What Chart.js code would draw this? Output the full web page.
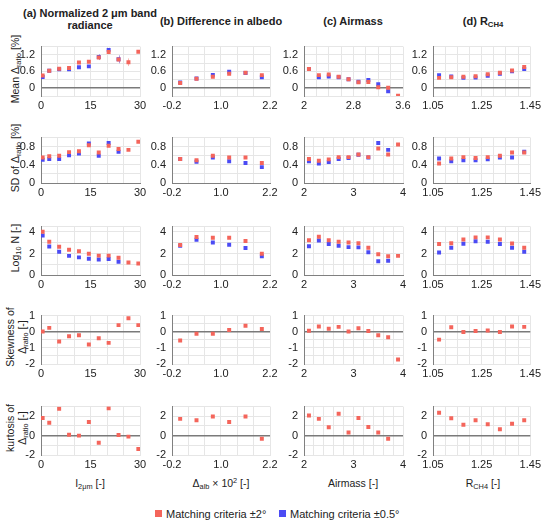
<!DOCTYPE html>
<html>
<head>
<meta charset="utf-8">
<script src="https://cdn.jsdelivr.net/npm/chart.js@4.4.1/dist/chart.umd.min.js"></script>
<style>
  body { margin: 0; background: #fff; font-family: Arial, "Liberation Sans", sans-serif; color: #222; }
  #fig { position: relative; width: 550px; height: 528px; overflow: hidden; background: #fff; }
  #fig canvas { position: absolute; }
  .t { position: absolute; white-space: nowrap; }
  .col { font-weight: bold; font-size: 11px; transform: translate(-50%, -50%); text-align: center; }
  .yt { font-size: 10.5px; line-height: 12px; text-align: center; transform: translate(-50%, -50%) rotate(-90deg); }
  .xt { font-size: 10.5px; transform: translate(-50%, -50%); }
  .lg { font-size: 11px; transform: translateY(-50%); }
  .sw { position: absolute; width: 7px; height: 7px; }
  sub { font-size: 70%; vertical-align: -2px; line-height: 0; }
  sup { font-size: 70%; vertical-align: 4px; line-height: 0; }
</style>
</head>
<body>
<div id="fig">
  <div class="t col" style="left:90px;top:13px">(a) Normalized 2 μm band</div>
  <div class="t col" style="left:90px;top:25px">radiance</div>
  <div class="t col" style="left:221px;top:21px">(b) Difference in albedo</div>
  <div class="t col" style="left:353px;top:21px">(c) Airmass</div>
  <div class="t col" style="left:483px;top:21px">(d) R<sub>CH4</sub></div>

  <div class="t yt" style="left:15px;top:69px">Mean Δ<sub>ratio</sub> [%]</div>
  <div class="t yt" style="left:15px;top:158px">SD of Δ<sub>ratio</sub> [%]</div>
  <div class="t yt" style="left:15px;top:248px">Log<sub>10</sub> N [-]</div>
  <div class="t yt" style="left:16px;top:337px">Skewness of<br>Δ<sub>ratio</sub> [-]</div>
  <div class="t yt" style="left:16px;top:428px">kurtosis of<br>Δ<sub>ratio</sub> [-]</div>

  <div class="t xt" style="left:90px;top:483px">I<sub>2μm</sub> [-]</div>
  <div class="t xt" style="left:221px;top:483px">Δ<sub>alb</sub> × 10<sup>2</sup> [-]</div>
  <div class="t xt" style="left:353px;top:483px">Airmass [-]</div>
  <div class="t xt" style="left:483px;top:483px">R<sub>CH4</sub> [-]</div>

  <div class="sw" style="left:155px;top:510px;background:#f4655b"></div>
  <div class="t lg" style="left:166px;top:514px">Matching criteria ±2°</div>
  <div class="sw" style="left:279px;top:510px;background:#4b4bf4"></div>
  <div class="t lg" style="left:290px;top:514px">Matching criteria ±0.5°</div>
</div>
<script>
// bin centres
const irrX     = [0.5, 2.5, 5.5, 8.5, 11.5, 14.5, 17.5, 20.5, 23.5, 26.5, 29.5];
const albX     = [0.0, 0.4, 0.8, 1.2, 1.6, 2.0];
const airX     = [2.1, 2.3, 2.5, 2.7, 2.9, 3.1, 3.3, 3.5, 3.7, 3.9];
const airMeanX = [2.08, 2.24, 2.40, 2.56, 2.72, 2.88, 3.04, 3.20, 3.36, 3.52];
const rchX     = [1.075, 1.125, 1.175, 1.225, 1.275, 1.325, 1.375, 1.425];

// row 1: mean of delta ratio [%]
const meanIrrRed  = [0.45, 0.62, 0.69, 0.72, 0.92, 0.95, 1.10, 1.30, 1.03, 0.93, 1.31];
const meanIrrBlue = [0.39, 0.62, 0.67, 0.67, 0.75, 0.78, 1.12, 1.38, 1.04];
const meanIrrRedErr  = [0.03, 0.02, 0.02, 0.03, 0.03, 0.04, 0.09, 0.06, 0.12, 0.14, 0.03];
const meanIrrBlueErr = [0.03, 0.02, 0.03, 0.03, 0.04, 0.05, 0.11, 0.08, 0.15];
const meanAlbRed  = [0.17, 0.33, 0.40, 0.51, 0.55, 0.46];
const meanAlbBlue = [0.19, 0.34, 0.47, 0.58, 0.54, 0.38];
const meanAirRed  = [0.68, 0.46, 0.48, 0.40, 0.31, 0.20, 0.21, 0.02, 0.00, -0.29];
const meanAirBlue = [0.68, 0.38, 0.41, 0.38, 0.31, 0.22, 0.28, 0.13, -0.13];
const meanRchRed  = [0.36, 0.38, 0.40, 0.42, 0.49, 0.55, 0.63, 0.76];
const meanRchBlue = [0.46, 0.41, 0.36, 0.37, 0.44, 0.51, 0.60, 0.68];

// row 2: SD of delta ratio [%]
const sdIrrRed  = [0.56, 0.59, 0.60, 0.68, 0.70, 0.83, 0.67, 0.82, 0.75, 0.73, 0.91];
const sdIrrBlue = [0.51, 0.53, 0.53, 0.61, 0.65, 0.87, 0.60, 0.88, 0.69];
const sdAlbRed  = [0.53, 0.50, 0.60, 0.56, 0.56, 0.44];
const sdAlbBlue = [0.53, 0.47, 0.56, 0.48, 0.44, 0.35];
const sdAirRed  = [0.53, 0.49, 0.52, 0.57, 0.57, 0.63, 0.57, 0.76, 0.63, 0.85];
const sdAirBlue = [0.48, 0.43, 0.46, 0.53, 0.55, 0.62, 0.56, 0.88, 0.73];
const sdRchRed  = [0.43, 0.54, 0.57, 0.55, 0.57, 0.60, 0.67, 0.67];
const sdRchBlue = [0.54, 0.48, 0.50, 0.50, 0.52, 0.56, 0.56, 0.69];

// row 3: log10 of sample count
const logIrrRed  = [4.03, 3.10, 2.62, 2.34, 2.20, 1.97, 1.80, 1.80, 1.61, 1.16, 1.07];
const logIrrBlue = [3.67, 2.65, 2.17, 1.78, 1.64, 1.52, 1.44, 1.49, 1.24];
const logAlbRed  = [2.79, 3.53, 3.47, 3.47, 3.16, 1.97];
const logAlbBlue = [2.71, 3.27, 3.02, 2.82, 2.51, 1.75];
const logAirRed  = [3.24, 3.55, 3.24, 3.10, 3.02, 2.96, 2.54, 1.92, 1.75, 1.78];
const logAirBlue = [2.68, 3.21, 2.88, 2.71, 2.59, 2.57, 2.12, 1.27, 1.33];
const logRchRed  = [2.88, 2.96, 3.30, 3.50, 3.50, 3.30, 2.93, 2.54];
const logRchBlue = [2.09, 2.54, 2.90, 3.13, 3.10, 2.88, 2.54, 2.17];

// row 4: skewness (±2° only)
const skewIrrRed = [0.02, 0.24, -0.60, -0.28, -0.22, -0.79, -0.41, -0.69, 0.41, 0.84, 0.41];
const skewAlbRed = [-0.54, -0.13, -0.13, 0.11, 0.37, 0.17];
const skewAirRed = [0.06, 0.32, 0.19, 0.30, 0.02, 0.22, 0.04, -0.22, -0.34, -1.72];
const skewRchRed = [-0.49, 0.28, -0.02, 0.04, 0.07, -0.02, 0.32, 0.30];

// row 5: kurtosis (±2° only)
const kurtIrrRed = [1.82, 1.34, 2.78, 0.10, 0.00, 1.41, -0.74, 2.82, 0.06, -0.10, -1.38];
const kurtAlbRed = [1.73, 1.60, 1.98, 1.41, 1.98, -0.32];
const kurtAirRed = [2.08, 1.73, 0.86, 2.27, 0.32, 1.82, 0.90, 0.32, -0.32];
const kurtRchRed = [2.37, 1.79, 1.12, 1.60, 1.18, 0.67, 1.22, 1.60];

// axis ranges and labelled ticks
const xAxes = [
  { min: 0,    max: 30,   step: 5,    labels: ['0', '15', '30'] },
  { min: -0.2, max: 2.2,  step: 0.4,  labels: ['-0.2', '1.0', '2.2'] },
  { min: 2,    max: 4,    step: 0.2,  labels: ['2', '3', '4'] },
  { min: 1.05, max: 1.45, step: 0.05, labels: ['1.05', '1.25', '1.45'] }
];
const airMeanAxis = { min: 2, max: 3.6, step: 0.2, labels: ['2', '2.8', '3.6'] };
const yAxes = [
  { min: -0.3, max: 1.5, step: 0.3, labels: ['0', '0.6', '1.2'] },
  { min: 0,    max: 1.0, step: 0.2, labels: ['0', '0.4', '0.8'] },
  { min: 0,    max: 4.5, step: 1,   labels: ['0', '2', '4'] },
  { min: -2,   max: 1,   step: 0.5, labels: ['-2', '-1', '0', '1'] },
  { min: -2,   max: 3,   step: 1,   labels: ['-2', '0', '2'] }
];

const RED = '#f4655b', BLUE = '#4b4bf4';
const colLeft  = [41, 172, 304, 433];
const colWidth = [99, 98, 99, 99];
const rowTop    = [42, 133, 222, 311, 402];
const rowHeight = [54, 50, 53, 53, 53];
const PAD_L = 30, PAD_R = 12, PAD_T = 8, PAD_B = 16;

const pts = (xs, ys) => ys.map((y, i) => ({ x: xs[i], y }));

function gridValues(ax) {
  const out = [];
  const n = Math.floor((ax.max - ax.min) / ax.step + 1e-9);
  for (let i = 0; i <= n; i++) out.push(+(ax.min + i * ax.step).toFixed(6));
  if (Math.abs(out[out.length - 1] - ax.max) > 1e-9) out.push(ax.max);
  return out;
}

function labelFor(ax, v) {
  const hit = ax.labels.find(l => Math.abs(parseFloat(l) - v) < 1e-6);
  return hit === undefined ? '' : hit;
}

const errorBars = {
  id: 'errorBars',
  beforeDatasetsDraw(chart) {
    const { ctx, scales: { x, y } } = chart;
    chart.data.datasets.forEach(ds => {
      if (!ds.errors) return;
      ctx.save();
      ctx.strokeStyle = ds.errorColor;
      ctx.lineWidth = 1;
      ds.data.forEach((p, i) => {
        const e = ds.errors[i];
        if (!e) return;
        const px = Math.round(x.getPixelForValue(p.x)) + 0.5;
        ctx.beginPath();
        ctx.moveTo(px, y.getPixelForValue(p.y - e));
        ctx.lineTo(px, y.getPixelForValue(p.y + e));
        ctx.stroke();
      });
      ctx.restore();
    });
  }
};

function makePanel(r, c, xAx, red, blue, redErr, blueErr) {
  const yAx = yAxes[r];
  const canvas = document.createElement('canvas');
  const w = colWidth[c] + PAD_L + PAD_R;
  const h = rowHeight[r] + PAD_T + PAD_B;
  canvas.width = w; canvas.height = h;
  canvas.style.width = w + 'px'; canvas.style.height = h + 'px';
  canvas.style.left = (colLeft[c] - PAD_L) + 'px';
  canvas.style.top = (rowTop[r] - PAD_T) + 'px';
  document.getElementById('fig').appendChild(canvas);

  const zeroInside = yAx.min < 0;
  const datasets = [{
    data: red, backgroundColor: RED, borderWidth: 0,
    pointStyle: 'rect', pointRadius: 2.8,
    errors: redErr, errorColor: 'rgba(244,101,91,0.45)'
  }];
  if (blue) datasets.push({
    data: blue, backgroundColor: BLUE, borderWidth: 0,
    pointStyle: 'rect', pointRadius: 2.8,
    errors: blueErr, errorColor: 'rgba(75,75,244,0.4)'
  });

  new Chart(canvas, {
    type: 'scatter',
    data: { datasets },
    plugins: [errorBars],
    options: {
      responsive: false,
      animation: false,
      events: [],
      layout: { padding: { left: 0, right: PAD_R, top: PAD_T, bottom: 0 } },
      plugins: { legend: { display: false }, tooltip: { enabled: false } },
      scales: {
        x: {
          type: 'linear', min: xAx.min, max: xAx.max,
          afterBuildTicks: s => { s.ticks = gridValues(xAx).map(v => ({ value: v })); },
          afterFit: s => { s.height = PAD_B; },
          grid: { color: '#e6e6e6', lineWidth: 1, drawTicks: false },
          border: { display: true, color: zeroInside ? '#e6e6e6' : '#808080', width: 1 },
          ticks: {
            autoSkip: false, maxRotation: 0, padding: 3, color: '#222',
            font: { family: 'Arial, "Liberation Sans", sans-serif', size: 11 },
            callback: v => labelFor(xAx, v)
          }
        },
        y: {
          type: 'linear', min: yAx.min, max: yAx.max,
          afterBuildTicks: s => { s.ticks = gridValues(yAx).map(v => ({ value: v })); },
          afterFit: s => { s.width = PAD_L; },
          grid: {
            drawTicks: false,
            color: ctx => (ctx.tick && Math.abs(ctx.tick.value) < 1e-9) ? '#7a7a7a' : '#e6e6e6',
            lineWidth: ctx => (ctx.tick && Math.abs(ctx.tick.value) < 1e-9 && zeroInside) ? 1.6 : 1
          },
          border: { display: true, color: '#808080', width: 1 },
          ticks: {
            autoSkip: false, padding: 6, color: '#222',
            font: { family: 'Arial, "Liberation Sans", sans-serif', size: 11 },
            callback: v => labelFor(yAx, v)
          }
        }
      }
    }
  });
}

// row 1
makePanel(0, 0, xAxes[0], pts(irrX, meanIrrRed), pts(irrX, meanIrrBlue), meanIrrRedErr, meanIrrBlueErr);
makePanel(0, 1, xAxes[1], pts(albX, meanAlbRed), pts(albX, meanAlbBlue));
makePanel(0, 2, airMeanAxis, pts(airMeanX, meanAirRed), pts(airMeanX, meanAirBlue));
makePanel(0, 3, xAxes[3], pts(rchX, meanRchRed), pts(rchX, meanRchBlue));
// row 2
makePanel(1, 0, xAxes[0], pts(irrX, sdIrrRed), pts(irrX, sdIrrBlue));
makePanel(1, 1, xAxes[1], pts(albX, sdAlbRed), pts(albX, sdAlbBlue));
makePanel(1, 2, xAxes[2], pts(airX, sdAirRed), pts(airX, sdAirBlue));
makePanel(1, 3, xAxes[3], pts(rchX, sdRchRed), pts(rchX, sdRchBlue));
// row 3
makePanel(2, 0, xAxes[0], pts(irrX, logIrrRed), pts(irrX, logIrrBlue));
makePanel(2, 1, xAxes[1], pts(albX, logAlbRed), pts(albX, logAlbBlue));
makePanel(2, 2, xAxes[2], pts(airX, logAirRed), pts(airX, logAirBlue));
makePanel(2, 3, xAxes[3], pts(rchX, logRchRed), pts(rchX, logRchBlue));
// row 4
makePanel(3, 0, xAxes[0], pts(irrX, skewIrrRed));
makePanel(3, 1, xAxes[1], pts(albX, skewAlbRed));
makePanel(3, 2, xAxes[2], pts(airX, skewAirRed));
makePanel(3, 3, xAxes[3], pts(rchX, skewRchRed));
// row 5
makePanel(4, 0, xAxes[0], pts(irrX, kurtIrrRed));
makePanel(4, 1, xAxes[1], pts(albX, kurtAlbRed));
makePanel(4, 2, xAxes[2], pts(airX, kurtAirRed));
makePanel(4, 3, xAxes[3], pts(rchX, kurtRchRed));
</script>
</body>
</html>
